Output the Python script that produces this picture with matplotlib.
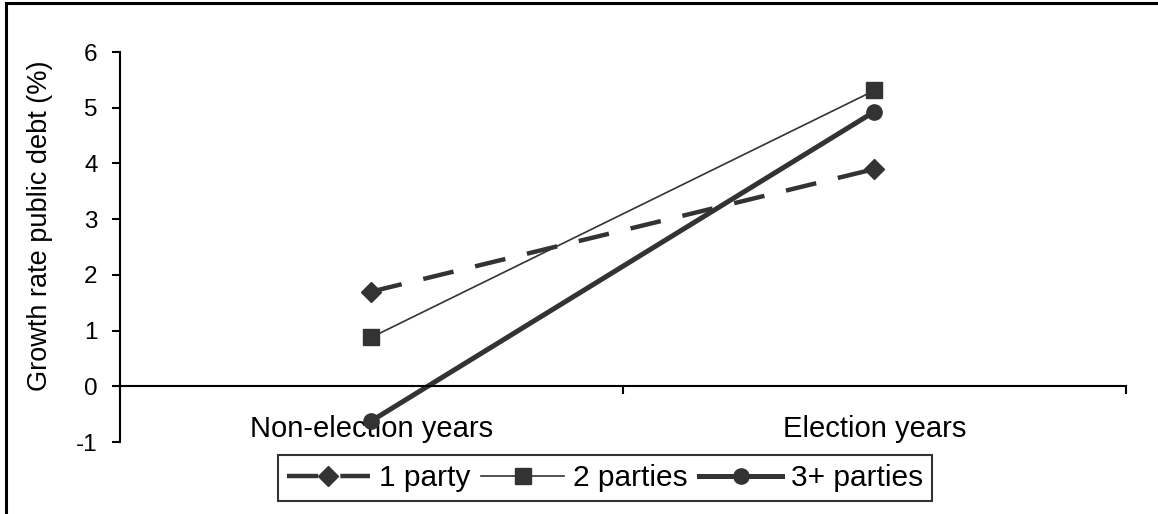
import matplotlib
matplotlib.use("Agg")
import matplotlib.pyplot as plt
from matplotlib.lines import Line2D

plt.rcParams["font.family"] = ["Liberation Sans", "DejaVu Sans"]
plt.rcParams["font.size"] = 17.5

categories = ["Non-election years", "Election years"]
one_party = [1.70, 3.90]
two_parties = [0.88, 5.31]
three_parties = [-0.62, 4.93]
y_ticks = [-1, 0, 1, 2, 3, 4, 5, 6]
ink = "#333333"

fig = plt.figure(figsize=(11.58, 5.14), dpi=100)
ax = fig.add_axes([0.1036, 0.140, 0.8687, 0.7588])

x = list(range(len(categories)))
ax.plot(x, one_party, color=ink, lw=3.2, dashes=(7, 5), marker="D", ms=10,
        label="1 party")
ax.plot(x, two_parties, color=ink, lw=1.2, marker="s", ms=11,
        label="2 parties")
ax.plot(x, three_parties, color=ink, lw=3.6, marker="o", ms=11,
        label="3+ parties")

ax.set_xlim(-0.5, 1.5)
ax.set_ylim(-1, 6)
ax.set_yticks(y_ticks)
ax.set_yticklabels([str(v) for v in y_ticks])
ax.set_ylabel("Growth rate public debt (%)", fontsize=19.5)
ax.yaxis.set_label_coords(-0.0666, 0.554)

for s in ["top", "right"]:
    ax.spines[s].set_visible(False)
ax.spines["bottom"].set_position(("data", 0))
ax.spines["bottom"].set_linewidth(1.5)
ax.spines["left"].set_linewidth(1.5)

ax.set_xticks([-0.5, 0.5, 1.5])
ax.set_xticklabels(["", "", ""])
ax.set_xticks([0, 1], minor=True)
ax.set_xticklabels(categories, minor=True, fontsize=21)
ax.tick_params(axis="x", which="major", direction="out", length=6, width=1.5)
ax.tick_params(axis="x", which="minor", length=0, pad=21)
ax.tick_params(axis="y", direction="out", length=6, width=1.5, pad=10)

leg = ax.legend(loc="center", bbox_to_anchor=(0.5225, 0.070),
                bbox_transform=fig.transFigure, ncol=3, frameon=True,
                fancybox=False, handlelength=2.78, handletextpad=0.3,
                columnspacing=0.37, borderpad=0.3, borderaxespad=0,
                fontsize=21.5)
leg.get_frame().set_edgecolor("black")
leg.get_frame().set_linewidth(1.5)

# outer frame (top and left edges visible)
fig.add_artist(Line2D([0.0055, 1.0], [0.994, 0.994], color="black", lw=2.2,
                      transform=fig.transFigure))
fig.add_artist(Line2D([0.0055, 0.0055], [0.0, 0.994], color="black", lw=2.2,
                      transform=fig.transFigure))

fig.savefig("out.png", dpi=100)
